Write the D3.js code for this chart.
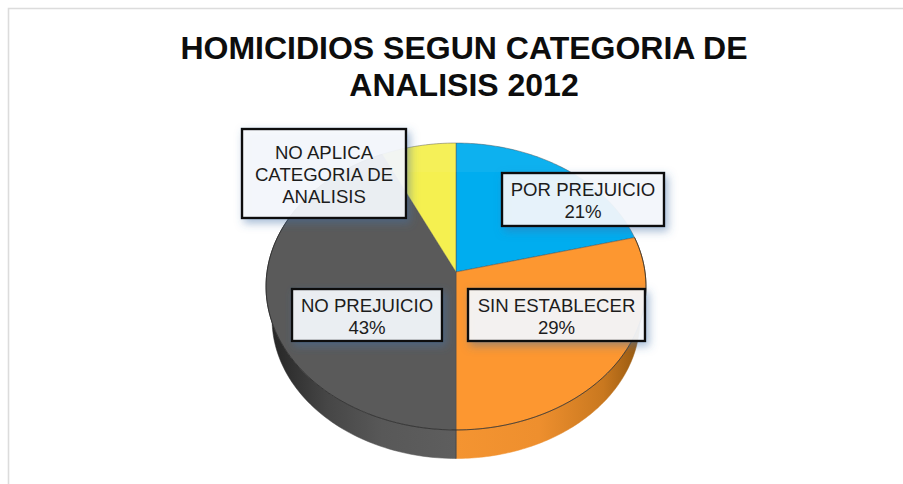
<!DOCTYPE html>
<html><head><meta charset="utf-8">
<script src="https://cdn.jsdelivr.net/npm/d3@7"></script>
<style>html,body{margin:0;padding:0;background:#fff;overflow:hidden}svg{display:block}</style>
</head><body><svg id="c" width="903" height="484"></svg>
<script>
const categories = ["POR PREJUICIO","SIN ESTABLECER","NO PREJUICIO","NO APLICA CATEGORIA DE ANALISIS"];
const values = [21,29,43,7];
const titleLines = ["HOMICIDIOS SEGUN CATEGORIA DE","ANALISIS 2012"];
const labelLines = [["POR PREJUICIO","21%"],["SIN ESTABLECER","29%"],["NO PREJUICIO","43%"],["NO APLICA","CATEGORIA DE","ANALISIS"]];
const colors = ["#00adef","#fd9730","#5a5a5a","#f5f050"];
const rimColors = ["#00adef","url(#rimOrange)","url(#rimGrey)","#f5f050"];
const boxes = [[502,173,162,53],[468,289,177,52],[292,289,150,52],[242,129,164,89]];

const svg = d3.select("#c");
const defs = svg.append("defs");
const grad = (id,stops)=>{const g=defs.append("linearGradient").attr("id",id).attr("gradientUnits","userSpaceOnUse").attr("x1",stops.x1).attr("x2",stops.x2).attr("y1",0).attr("y2",0);
  stops.s.forEach(s=>g.append("stop").attr("offset",s[0]).attr("stop-color",s[1]));};
grad("rimOrange",{x1:456,x2:640,s:[[0,"#f49431"],[.45,"#ee8f2e"],[.8,"#c9781f"],[1,"#95580f"]]});
grad("rimGrey",{x1:272,x2:456,s:[[0,"#262626"],[.3,"#464646"],[.6,"#585858"],[1,"#5e5e5e"]]});
const f = defs.append("filter").attr("id","glow").attr("x","-20%").attr("y","-30%").attr("width","140%").attr("height","160%");
f.append("feDropShadow").attr("dx",3).attr("dy",4).attr("stdDeviation",4).attr("flood-color","#3f6fa8").attr("flood-opacity",.5);

// frame
svg.append("path").attr("d","M8.5,484V8.5H903").attr("fill","none").attr("stroke","#dcdcdc").attr("stroke-width",1.6);

// title
svg.append("g").selectAll("text").data(titleLines).join("text")
  .attr("x",464).attr("y",(d,i)=>59+i*37).attr("text-anchor","middle")
  .attr("font-family","'Liberation Sans',Arial,sans-serif").attr("font-weight",700).attr("font-size",32).attr("fill","#0d0d0d").text(d=>d);

// pie in perspective
const pie = d3.pie().sort(null).startAngle(0).endAngle(2*Math.PI)(values);
const K = 0.101;
const proj = (cx,cy,b,a)=>(ang,r=1)=>{
  const u=r*Math.sin(ang), v=-r*Math.cos(ang), w=1-K*v;
  return [cx+b*u/w, cy+a*v/w];
};
const topP = proj(456,272,189,142);
const botP = proj(456,305,183,138);
const line = d3.line();
const wedge = (p,d)=>{
  const n=Math.max(8,Math.ceil((d.endAngle-d.startAngle)*60));
  const pts=d3.range(n+1).map(i=>p(d.startAngle+(d.endAngle-d.startAngle)*i/n));
  return line([p(0,0),...pts])+"Z";
};
// rim
svg.append("g").selectAll("path").data(pie.slice(1,3)).join("path")
  .attr("d",d=>{
    const n=120, s=d.startAngle, e=d.endAngle;
    const a=d3.range(n+1).map(i=>topP(s+(e-s)*i/n));
    const b=d3.range(n+1).map(i=>botP(s+(e-s)*(n-i)/n));
    return line([...a,...b])+"Z";
  })
  .attr("fill",d=>rimColors[d.index]).attr("stroke",d=>rimColors[d.index]).attr("stroke-width",.5);
// separator on rim
const sep = pie[1].endAngle;
svg.append("path").attr("d",line([topP(sep),botP(sep)])).attr("stroke","#454545").attr("stroke-width",.8);
// top face
svg.append("g").selectAll("path").data(pie).join("path")
  .attr("d",d=>wedge(topP,d)).attr("fill",d=>colors[d.index])
  .attr("stroke","#4d4d4d").attr("stroke-opacity",.65).attr("stroke-width",.7).attr("stroke-linejoin","round");
// faint sheen across the back of the face
defs.append("clipPath").attr("id","faceClip").append("path").attr("d",wedge(topP,{startAngle:0,endAngle:2*Math.PI}));
svg.append("rect").attr("x",260).attr("y",130).attr("width",400).attr("height",42)
  .attr("fill","#fff").attr("fill-opacity",.05).attr("clip-path","url(#faceClip)");
// front edge line
const fe=d3.range(121).map(i=>topP(pie[0].endAngle+(pie[2].endAngle-pie[0].endAngle)*i/120));
svg.append("path").attr("d",line(fe)).attr("fill","none").attr("stroke","#222").attr("stroke-opacity",.8).attr("stroke-width",.8);

// labels
const lab = svg.append("g").selectAll("g").data(categories).join("g");
lab.append("rect").attr("x",(d,i)=>boxes[i][0]).attr("y",(d,i)=>boxes[i][1]).attr("width",(d,i)=>boxes[i][2]).attr("height",(d,i)=>boxes[i][3])
  .attr("fill","#f6f9fd").attr("fill-opacity",.91).attr("stroke","#0d0d0d").attr("stroke-width",2.4).attr("filter","url(#glow)");
lab.each(function(d,i){
  const b=boxes[i], ls=labelLines[i], lh=22;
  const y0=b[1]+b[3]/2-(ls.length*lh)/2+18.5;
  d3.select(this).selectAll("text").data(ls).join("text")
    .attr("x",b[0]+b[2]/2).attr("y",(t,j)=>y0+j*lh).attr("text-anchor","middle")
    .attr("font-family","'Liberation Sans',Arial,sans-serif").attr("font-size",18.6).attr("fill","#1c1c1c").text(t=>t);
});
</script></body></html>
